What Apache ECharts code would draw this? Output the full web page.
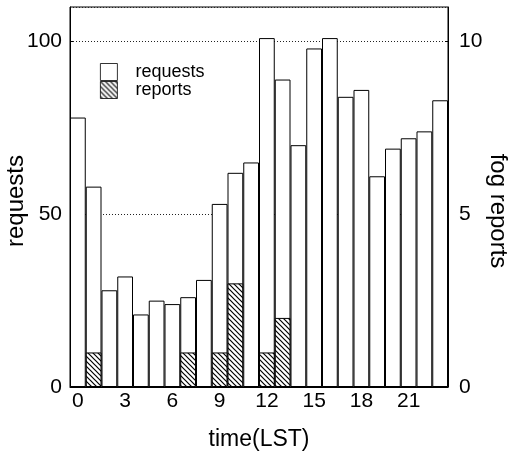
<!DOCTYPE html>
<html>
<head>
<meta charset="utf-8">
<script src="https://cdn.jsdelivr.net/npm/echarts@6/dist/echarts.min.js"></script>
<style>
html,body{margin:0;padding:0;background:#fff;}
#main{width:513px;height:457px;}
</style>
</head>
<body>
<div id="main"></div>
<script>
var hours = ['0','1','2','3','4','5','6','7','8','9','10','11','12','13','14','15','16','17','18','19','20','21','22','23'];
var requests = [78,58,28,32,21,25,24,26,31,53,62,65,101,89,70,98,101,84,86,61,69,72,74,83];
var reports = [0,1,0,0,0,0,0,1,0,1,3,0,1,2,0,0,0,0,0,0,0,0,0,0];

// hatch pattern for the reports bars
function hatch() {
    var c = document.createElement('canvas');
    c.width = 5;
    c.height = 5;
    var ctx = c.getContext('2d');
    ctx.fillStyle = '#fff';
    ctx.fillRect(0, 0, 5, 5);
    ctx.strokeStyle = '#000';
    ctx.lineWidth = 1.2;
    ctx.beginPath();
    ctx.moveTo(-1, -1); ctx.lineTo(6, 6);
    ctx.moveTo(-1, 4); ctx.lineTo(1, 6);
    ctx.moveTo(4, -1); ctx.lineTo(6, 1);
    ctx.stroke();
    return {image: c, repeat: 'repeat'};
}

var font = 'Liberation Sans';
var chart = echarts.init(document.getElementById('main'));
var option = {
    animation: false,
    grid: {
        left: 70, right: 65, top: 7, bottom: 70,
        outerBoundsMode: 'none',
        containLabel: false,
        show: true, borderColor: '#000', borderWidth: 1
    },
    legend: {
        left: 100, top: 63,
        padding: 0,
        orient: 'vertical',
        itemWidth: 17, itemHeight: 17, itemGap: 0,
        icon: 'rect',
        itemStyle: {borderColor: '#000', borderWidth: 0.8},
        textStyle: {fontFamily: font, fontSize: 18, color: '#000', padding: [0, 0, 0, 13]},
        data: ['requests', 'reports']
    },
    xAxis: {
        type: 'category',
        data: hours,
        name: 'time(LST)',
        nameLocation: 'middle',
        nameGap: 41,
        nameMoveOverlap: false,
        nameTextStyle: {fontFamily: font, fontSize: 23, color: '#000'},
        axisLine: {lineStyle: {color: '#000', width: 1}},
        axisTick: {show: false},
        axisLabel: {interval: 2, fontFamily: font, fontSize: 21, color: '#000', margin: 4}
    },
    yAxis: [
        {
            type: 'value', min: 0, max: 110, interval: 50,
            name: 'requests',
            nameLocation: 'middle',
            nameRotate: 90,
            nameGap: 42,
            nameMoveOverlap: false,
            nameTextStyle: {fontFamily: font, fontSize: 24, color: '#000', padding: [0, 8, 0, 0]},
            axisLine: {show: true, lineStyle: {color: '#000', width: 1}},
            axisTick: {show: true, inside: true, length: 3, lineStyle: {color: '#000'}},
            axisLabel: {showMaxLabel: false, fontFamily: font, fontSize: 21, color: '#000', margin: 8},
            splitLine: {show: true, lineStyle: {color: '#222', type: [1, 2], width: 1}}
        },
        {
            type: 'value', min: 0, max: 11, interval: 5,
            name: 'fog reports',
            nameLocation: 'middle',
            nameRotate: -90,
            nameGap: 38,
            nameMoveOverlap: false,
            nameTextStyle: {fontFamily: font, fontSize: 24, color: '#000', padding: [0, 0, 0, 28]},
            axisLine: {show: true, lineStyle: {color: '#000', width: 1}},
            axisTick: {show: true, inside: true, length: 3, lineStyle: {color: '#000'}},
            axisLabel: {showMaxLabel: false, fontFamily: font, fontSize: 21, color: '#000', margin: 11},
            splitLine: {show: false}
        }
    ],
    series: [
        {
            name: 'requests',
            type: 'bar',
            barCategoryGap: '0%',
            barGap: '-100%',
            itemStyle: {color: '#fff', borderColor: '#000', borderWidth: 1},
            data: requests
        },
        {
            name: 'reports',
            type: 'bar',
            yAxisIndex: 1,
            barCategoryGap: '0%',
            barGap: '-100%',
            itemStyle: {color: hatch(), borderColor: '#000', borderWidth: 1},
            data: reports
        }
    ]
};
chart.setOption(option);
</script>
</body>
</html>
